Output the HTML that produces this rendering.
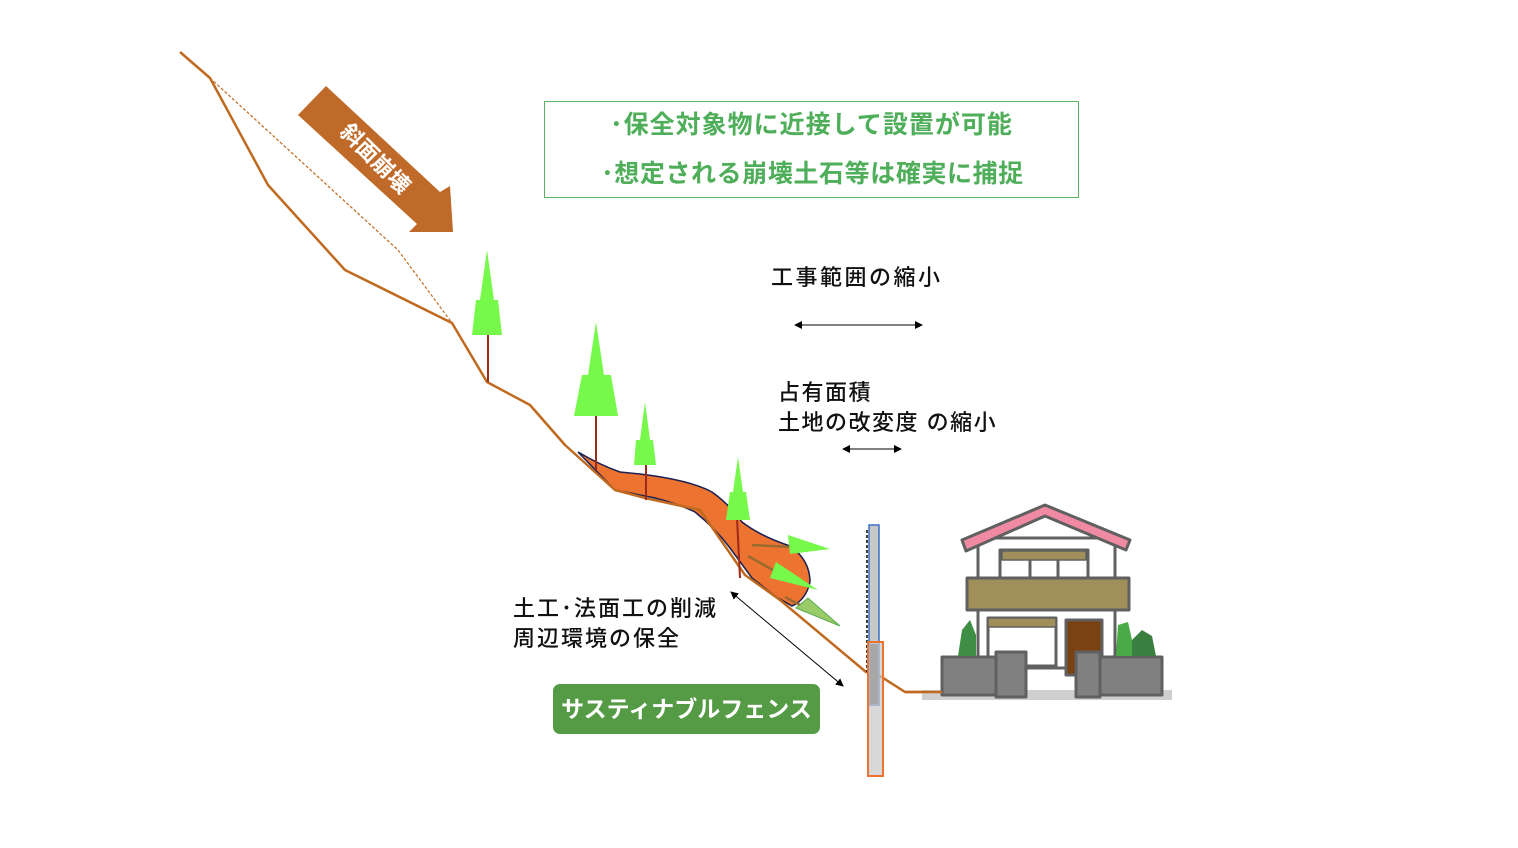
<!DOCTYPE html>
<html><head><meta charset="utf-8"><style>
html,body{margin:0;padding:0;background:#fff;}
body{width:1518px;height:848px;overflow:hidden;position:relative;font-family:"Liberation Sans","Noto Sans CJK JP",sans-serif;}
.t{position:absolute;white-space:nowrap;color:#111;font-size:22px;line-height:30px;font-weight:500;}
</style></head><body>
<svg width="1518" height="848" style="position:absolute;left:0;top:0">
<defs>
<marker id="ah" markerWidth="8" markerHeight="8" refX="7" refY="4" orient="auto-start-reverse" markerUnits="userSpaceOnUse"><path d="M0,0 L8,4 L0,8 z" fill="#000"/></marker>
</defs>
<polyline points="210,78 398,250 452,323" fill="none" stroke="#c06a20" stroke-width="1.2" stroke-dasharray="3,2"/>
<path d="M578,452 Q600,465 620,472 L640,474 Q690,480 712,492 Q730,505 742,522 Q760,536 790,546 Q810,560 810,582 Q806,600 792,606 L775,596 L752,578 L730,548 Q715,528 695,512 Q670,500 640,495 L615,490 Z" fill="#ed7330" stroke="#1a2050" stroke-width="1.5"/>
<polyline points="180,52 210,78 268,185 345,270 452,323 487,382 530,405 565,445 615,490 645,498 700,510 745,575 780,600 866,672 880,676 905,692 940,692" fill="none" stroke="#c06a20" stroke-width="2.5" stroke-linejoin="round"/>
<polygon points="298,115 326,86 440,192 450,186 453,232 409,232 417,224" fill="#bf6a28"/>
<text x="0" y="0" transform="translate(374,160) rotate(45)" fill="#fff" font-size="22" font-weight="bold" text-anchor="middle" dominant-baseline="middle" font-family="Liberation Sans, Noto Sans CJK JP, sans-serif">斜面崩壊</text>
<g stroke="#9b2a1a" stroke-width="2">
<line x1="488" y1="332" x2="488" y2="382"/>
<line x1="596" y1="414" x2="596" y2="470"/>
<line x1="646" y1="463" x2="646" y2="500"/>
<line x1="737" y1="518" x2="740" y2="578"/>
</g>
<g fill="#76f94b">
<polygon points="487,250 480,300 476,300 472,335 502,335 498,300 494,300"/>
<polygon points="596,322 588,375 582,375 574,416 618,416 611,375 604,375"/>
<polygon points="645,402 640,440 636,440 634,465 656,465 653,440 650,440"/>
<polygon points="738,457 733,492 730,492 726,520 750,520 746,492 743,492"/>
</g>
<g stroke="#9a6a30" stroke-width="2.5">
<line x1="752" y1="545" x2="792" y2="547"/>
<line x1="748" y1="556" x2="780" y2="574"/>
<line x1="785" y1="597" x2="800" y2="605"/>
</g>
<polygon points="788,535 830,549 790,554" fill="#76f94b"/>
<polygon points="776,562 818,590 770,578" fill="#76f94b"/>
<polygon points="796,608 808,598 840,626" fill="#99cc66" stroke="#5aaa50" stroke-width="1"/>
<line x1="867" y1="530" x2="867" y2="672" stroke="#000" stroke-width="1.5" stroke-dasharray="3,2"/>
<rect x="869" y="525" width="10" height="180" fill="#c8c8c8" stroke="#3a70c0" stroke-width="1.5"/>
<rect x="868" y="642" width="15" height="134" fill="#c8c8c8" fill-opacity="0.7" stroke="#ed7330" stroke-width="2"/>
<rect x="870" y="644" width="8" height="60" fill="#999" opacity="0.7"/>
<line x1="795" y1="325" x2="922" y2="325" stroke="#000" stroke-width="1" marker-start="url(#ah)" marker-end="url(#ah)"/>
<line x1="843" y1="449" x2="901" y2="449" stroke="#000" stroke-width="1" marker-start="url(#ah)" marker-end="url(#ah)"/>
<line x1="731" y1="592" x2="843" y2="686" stroke="#000" stroke-width="1" marker-start="url(#ah)" marker-end="url(#ah)"/>
<g stroke="#606060" stroke-width="3" stroke-linejoin="round">
<rect x="922" y="690" width="250" height="10" fill="#cfcfcf" stroke="none"/>
<rect x="978" y="538" width="137" height="130" fill="#fff"/>
<polygon points="962,540 1045,505 1130,540 1126,550 1045,516 966,551" fill="#ef8aa2"/>
<rect x="1000" y="550" width="88" height="30" fill="#fff"/>
<rect x="1002" y="551" width="84" height="9" fill="#a08f5a" stroke-width="1.5"/>
<line x1="1030" y1="560" x2="1030" y2="580"/><line x1="1058" y1="560" x2="1058" y2="580"/>
<rect x="967" y="578" width="162" height="32" fill="#a08f5a"/>
<rect x="988" y="618" width="68" height="48" fill="#fff"/>
<rect x="988" y="618" width="68" height="9" fill="#a08f5a" stroke-width="1.5"/>
<rect x="1066" y="620" width="36" height="55" fill="#7a4210"/>
<rect x="942" y="657" width="60" height="38" fill="#808080"/>
<rect x="1096" y="657" width="66" height="38" fill="#808080"/>
<rect x="996" y="652" width="30" height="45" fill="#808080"/>
<rect x="1076" y="652" width="24" height="45" fill="#808080"/>
</g>
<polygon points="962,630 970,620 976,635 976,656 958,656" fill="#3e8e45"/>
<polygon points="1118,625 1128,622 1132,640 1132,656 1116,656" fill="#4aaa45"/>
<polygon points="1132,640 1142,630 1152,636 1156,656 1132,656" fill="#3a7f40"/>
<line x1="905" y1="692" x2="942" y2="692" stroke="#c06a20" stroke-width="2.5"/>
</svg>
<div style="position:absolute;left:544px;top:101px;width:533px;height:95px;border:1px solid #5ab463;"></div>
<div class="t" style="left:544px;width:535px;text-align:center;top:110px;color:#4fae5a;font-size:25px;font-weight:bold;letter-spacing:1px;">･保全対象物に近接して設置が可能</div>
<div class="t" style="left:540px;width:545px;text-align:center;top:159px;color:#4fae5a;font-size:25px;font-weight:bold;letter-spacing:0.6px;">･想定される崩壊土石等は確実に捕捉</div>
<div class="t" style="left:771px;top:263px;letter-spacing:2.5px;">工事範囲の縮小</div>
<div class="t" style="left:778px;top:378px;letter-spacing:1.5px;">占有面積</div>
<div class="t" style="left:778px;top:408px;letter-spacing:1.5px;">土地の改変度 の縮小</div>
<div class="t" style="left:513px;top:594px;letter-spacing:2px;">土工･法面工の削減</div>
<div class="t" style="left:513px;top:624px;letter-spacing:2px;">周辺環境の保全</div>
<div style="position:absolute;left:553px;top:684px;width:267px;height:50px;background:#559a45;border-radius:7px;color:#fff;font-weight:bold;font-size:23px;line-height:50px;text-align:center;">サスティナブルフェンス</div>
</body></html>
